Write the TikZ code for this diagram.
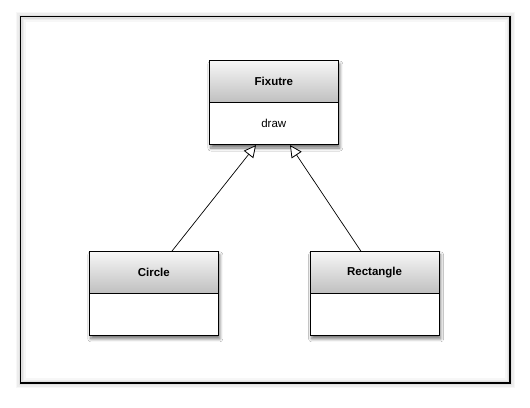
\documentclass[tikz,border=0pt]{standalone}
\usepackage{fontspec}
\setmainfont{Liberation Sans}
\usetikzlibrary{shadows.blur,arrows.meta,calc}
\tikzset{
  shadowbox/.style={fill=white, minimum width=129pt, minimum height=84pt, inner sep=0pt, outer sep=0pt,
    blur shadow={shadow xshift=1.5pt, shadow yshift=-3.5pt, shadow blur radius=3pt, shadow blur steps=8, shadow opacity=55}},
  hdr/.style={draw=black, line width=1.2pt, minimum width=129pt, minimum height=42pt,
    top color=white!97!black, bottom color=black!25, inner sep=0pt, outer sep=0pt,
    font=\fontsize{11.5}{14}\selectfont\bfseries},
  bdy/.style={draw=black, line width=1.2pt, minimum width=129pt, minimum height=42pt,
    fill=white, inner sep=0pt, outer sep=0pt, font=\fontsize{11.5}{14}\selectfont},
  inh/.style={line width=0.7pt, -{Triangle[open, fill=white, length=12pt, width=12pt, line width=0.8pt]}}
}
\begin{document}
\begin{tikzpicture}[x=1pt,y=-1pt]
\useasboundingbox (0,0) rectangle (530,407);
\fill[white] (0,0) rectangle (530,407);
% outer frame with soft halo
\foreach \w/\o in {10/0.03,7/0.04,4/0.05}{
  \draw[black, opacity=\o, line width=\w pt] (20.5,16.5) rectangle (510,383);
}
\draw[black, line width=1.4pt] (20.5,16.5) rectangle (510,383);
% Fixutre
\node[shadowbox] (fixS) at (273.8,102.5) {};
\node[hdr, anchor=north] (fixH) at (fixS.north) {Fixutre};
\node[bdy, anchor=north] (fixB) at (fixH.south) {draw};
% Circle
\node[shadowbox] (circS) at (153.8,293.3) {};
\node[hdr, anchor=north] (circH) at (circS.north) {Circle};
\node[bdy, anchor=north] (circB) at (circH.south) {};
% Rectangle
\node[shadowbox] (recS) at (374.6,293.3) {};
\node[hdr, anchor=north] (recH) at (recS.north) {Rectangle};
\node[bdy, anchor=north] (recB) at (recH.south) {};
% inheritance
\draw[inh] ([xshift=18pt]circH.north) -- ([xshift=-17.8pt,yshift=-0.6pt]fixB.south);
\draw[inh] ([xshift=-13.6pt]recH.north) -- ([xshift=16.2pt,yshift=-0.6pt]fixB.south);
\end{tikzpicture}
\end{document}
